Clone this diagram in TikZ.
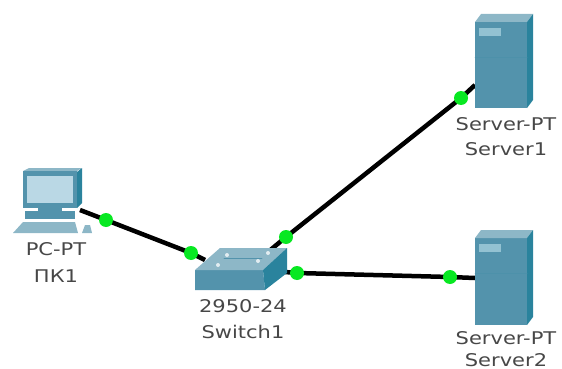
\documentclass[tikz,border=0pt]{standalone}
\usepackage{fontspec}
\usetikzlibrary{backgrounds}
\newfontfamily\devfont[FakeStretch=1.2]{DejaVu Sans}
\definecolor{devfront}{HTML}{5393AC}
\definecolor{devtop}{HTML}{8DB7C7}
\definecolor{devside}{HTML}{2A839D}
\definecolor{devlight}{HTML}{93C2D2}
\definecolor{screen}{HTML}{BAD8E5}
\definecolor{linkgreen}{HTML}{08E822}
\tikzset{
    devlabel/.style={anchor=base, inner sep=0pt, text=black!72, font=\devfont\fontsize{17.5}{19}\selectfont},
    port/.style={circle, fill=linkgreen, inner sep=0pt, minimum size=14pt},
    link/.style={line width=4.5pt, black}
}
\begin{document}
\begin{tikzpicture}[line cap=round, line join=round, x=1pt, y=-1pt]

    \useasboundingbox (0,0) rectangle (562,369);

    % servers
    \foreach \top/\low in {14/108, 230/325} {
        \fill[devfront] (475,\top+8) -- (527,\top+8) -- (527,\low) -- (475,\low) -- cycle;
        \fill[devtop] (475,\top+8) -- (481,\top) -- (533,\top) -- (527,\top+8) -- cycle;
        \fill[devside] (527,\top+8) -- (533,\top) -- (533,\low-8) -- (527,\low) -- cycle;
        \fill[devlight] (479,\top+14) rectangle (501,\top+22);
        \draw[devfront!85!devside, line width=0.5pt] (475,\top+43) -- (527,\top+43);
    }

    % switch
    \fill[devfront] (195,270) -- (263,270) -- (265,290) -- (195,290) -- cycle;
    \fill[devtop] (195,270) -- (220,248) -- (287,248) -- (263,270) -- cycle;
    \fill[devside] (263,270) -- (287,248) -- (287,273) -- (265,290) -- cycle;
    \fill[white!75!devtop] (227,255) circle (2pt) (268,253) circle (2pt)
        (218,265) circle (2pt) (258,261) circle (2pt);
    \draw[devfront, line width=0.6pt] (224,258) -- (262,258);

    % pc
    \fill[devside] (77,172) -- (82,168) -- (82,203) -- (77,208) -- cycle;
    \fill[devtop] (23,171) -- (29,168) -- (82,168) -- (77,171) -- cycle;
    \fill[devfront] (23,171) rectangle (77,208);
    \fill[screen] (27,176) rectangle (73,203);
    \fill[devfront] (38,208) rectangle (62,211);
    \fill[devfront] (25,211) rectangle (75,219);
    \fill[devtop] (13,233) -- (23,222) -- (75,222) -- (78,233) -- cycle;
    \fill[devtop] (82,233) -- (85,225) -- (90,225) -- (92,233) -- cycle;

    % links
    \coordinate (pcEnd) at (80,210);
    \coordinate (switchEndA) at (205,260);
    \coordinate (switchEndB) at (268,252);
    \coordinate (switchEndC) at (285,272);
    \coordinate (serverOneEnd) at (475,85);
    \coordinate (serverTwoEnd) at (475,278);

    \node[port] (pcPort) at (106,220) {};
    \node[port] (switchPortA) at (191,253) {};
    \node[port] (switchPortB) at (286,237) {};
    \node[port] (switchPortC) at (297,273) {};
    \node[port] (serverOnePort) at (461,98) {};
    \node[port] (serverTwoPort) at (450,277) {};

    \begin{scope}[on background layer]
        \draw[link] (pcEnd) -- (pcPort.center) -- (switchPortA.center) -- (switchEndA);
        \draw[link] (switchEndB) -- (switchPortB.center) -- (serverOnePort.center) -- (serverOneEnd);
        \draw[link] (switchEndC) -- (switchPortC.center) -- (serverTwoPort.center) -- (serverTwoEnd);
    \end{scope}

    % labels
    \node[devlabel] (pcType) at (56,255) {PC-PT};
    \node[devlabel] (pcName) at (56,282) {ПК1};
    \node[devlabel] (switchType) at (243,312) {2950-24};
    \node[devlabel] (switchName) at (243,338) {Switch1};
    \node[devlabel] (serverOneType) at (506,130) {Server-PT};
    \node[devlabel] (serverOneName) at (506,155) {Server1};
    \node[devlabel] (serverTwoType) at (506,344) {Server-PT};
    \node[devlabel] (serverTwoName) at (506,366) {Server2};

\end{tikzpicture}
\end{document}
